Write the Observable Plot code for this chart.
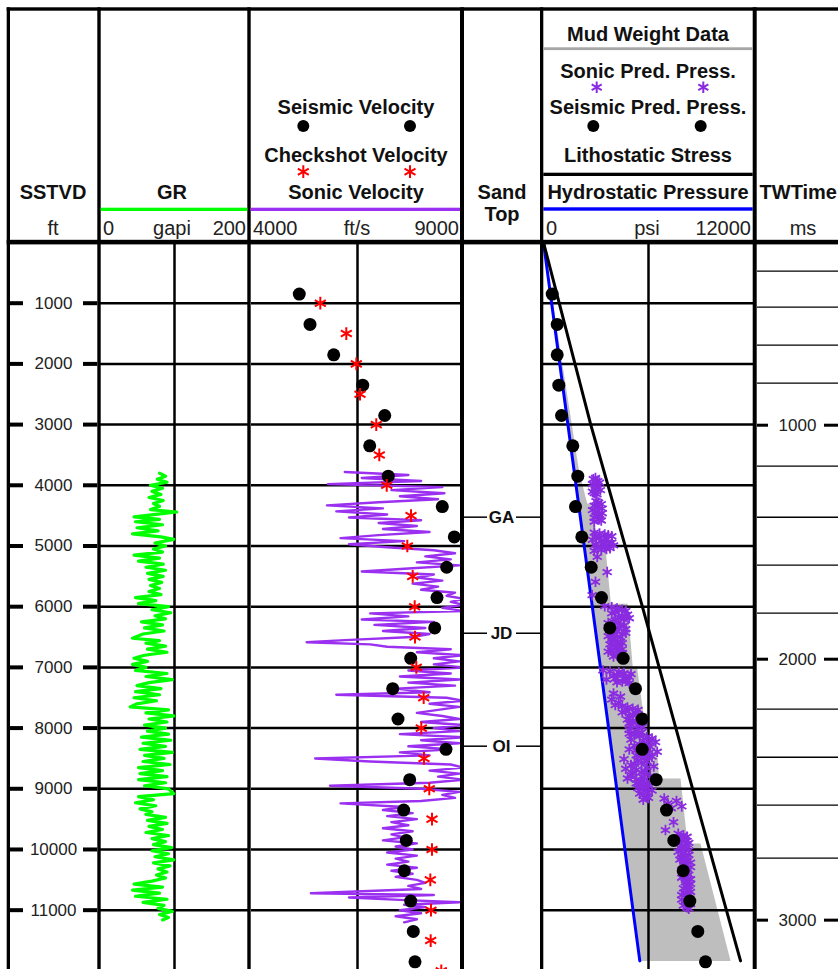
<!DOCTYPE html>
<html><head><meta charset="utf-8">
<script src="https://cdn.jsdelivr.net/npm/d3@7"></script>
<script src="https://cdn.jsdelivr.net/npm/@observablehq/plot@0.6"></script>
<style>
html,body{margin:0;padding:0;background:#fff;overflow:hidden;}
#wrap{position:relative;width:838px;height:969px;overflow:hidden;font-family:"Liberation Sans",Arial,sans-serif;}
.trk{position:absolute;top:242.3px;}
</style></head><body><div id="wrap"></div>
<script>
// ---------------- DATA ----------------
const depthTicks = [1000,2000,3000,4000,5000,6000,7000,8000,9000,10000,11000];

const grDepth = [3800,3850,3900,3950,4000,4050,4100,4150,4200,4250,4300,4350,4400,4440,4480,4520,4560,4600,4650,4700,4750,4800,4850,4890,4950,5000,5050,5100,5150,5200,5250,5300,5350,5400,5450,5500,5550,5600,5650,5700,5750,5800,5850,5900,5950,6000,6050,6100,6150,6200,6250,6300,6350,6400,6450,6520,6560,6600,6650,6700,6750,6800,6850,6900,6950,7000,7050,7100,7150,7200,7250,7300,7350,7400,7450,7500,7550,7600,7650,7700,7750,7800,7850,7900,7950,8000,8050,8100,8150,8200,8250,8300,8350,8400,8450,8500,8550,8600,8650,8700,8750,8800,8850,8900,8950,9000,9080,9130,9180,9230,9280,9330,9380,9420,9470,9520,9570,9620,9670,9720,9770,9820,9870,9920,9970,10020,10070,10120,10170,10220,10270,10320,10370,10420,10470,10520,10570,10620,10670,10720,10770,10820,10870,10920,10970,11020,11070,11120,11160];
const grVal = [80,88,77,90,68,84,70,82,66,85,72,80,68,103,75,46,80,48,84,50,78,44,82,99,74,88,72,84,46,80,52,85,62,88,64,85,66,83,68,80,66,82,48,75,52,92,70,95,74,88,56,84,60,86,58,44,80,62,88,64,90,60,46,64,44,62,48,90,62,97,66,50,82,48,80,46,76,50,41,92,62,99,66,90,60,88,64,92,56,95,58,88,54,97,60,86,58,94,52,84,54,90,52,88,60,92,99,52,72,48,75,54,70,62,88,64,90,66,84,62,92,70,88,72,96,70,92,74,99,72,94,78,90,76,88,70,46,84,44,80,48,90,58,86,78,97,80,92,84];

const sonicDepth = [3780,3830,3880,3930,3980,4030,4080,4130,4180,4230,4280,4330,4380,4430,4480,4530,4575,4620,4670,4720,4770,4820,4870,4920,4970,5020,5070,5120,5170,5220,5270,5320,5370,5420,5470,5520,5570,5620,5670,5720,5770,5820,5870,5920,5970,6020,6070,6110,6160,6210,6250,6300,6350,6400,6450,6500,6550,6585,6620,6660,6700,6750,6800,6850,6900,6950,7000,7050,7100,7150,7200,7250,7300,7350,7410,7450,7500,7550,7600,7650,7700,7750,7800,7850,7900,7950,8000,8050,8100,8150,8200,8250,8300,8350,8400,8450,8500,8550,8600,8650,8700,8750,8800,8850,8900,8950,9000,9050,9100,9150,9200,9240,9300,9350,9400,9450,9500,9550,9600,9650,9700,9750,9800,9850,9900,9950,10000,10050,10100,10150,10200,10250,10300,10350,10400,10450,10500,10550,10600,10650,10720,10750,10790,10830,10870,10910,10950,11000,11050,11100,11150,11200];
const sonicVel = [6200,7700,6600,8000,5800,8500,7300,8550,7500,8400,7000,5780,7100,6000,7200,6300,8000,7000,7900,7100,8200,7000,6100,7600,6300,7200,8300,8800,8100,8700,7900,8900,7700,6600,8300,7900,8500,7800,8400,8000,8800,8600,9000,8700,9000,8500,9000,6800,7700,6600,8300,6900,8100,7100,8200,7800,6200,5300,6800,7200,8700,7900,9000,8300,8900,8300,9000,7700,8700,7500,8900,7700,8800,7400,8200,6000,8600,9000,8200,8900,8400,7900,8500,8900,8000,9000,8300,8900,7500,9000,8000,8900,7700,8700,7500,8200,5500,6800,8700,9000,8200,8900,8400,9000,8200,5850,8000,8900,8500,8800,8000,6100,7600,7100,7800,7200,7900,7300,7700,7100,7800,7300,7600,7100,7900,7400,7800,7200,7900,7400,7700,7200,7900,7300,7800,7400,7900,8100,7700,8000,5400,8300,6300,7500,8900,7600,8100,7500,8000,7400,7900,7600];

const seisDepth = [850,1350,1850,2350,2850,3350,3850,4350,4850,5350,5850,6350,6850,7350,7850,8350,8850,9350,9850,10350,10850,11350,11850];
const seisVel = [5127,5380,5939,6623,7142,6788,7226,8500,8783,8604,8375,8321,7755,7330,7455,8587,7731,7590,7651,7604,7755,7816,7856];
const seisPress = [497,783,783,874,1029,1674,1960,1829,2189,2726,3314,3789,4554,5257,5640,5640,6440,7029,7446,7983,8360,8817,9257];

const checkDepth = [1000,1500,2000,2500,3000,3500,4000,4500,5000,5500,6000,6500,7000,7500,8000,8500,9000,9500,10000,10500,11000,11500,12000];
const checkVel = [5623,6236,6472,6559,6943,7014,7189,7762,7675,7802,7849,7856,7887,8061,8005,8068,8193,8257,8257,8217,8233,8226,8476];

const sppDepth = [3880,3930,3980,4030,4080,4130,4260,4310,4360,4410,4460,4510,4560,4600,4780,4810,4840,4870,4900,4930,4960,4990,5020,5050,5080,5180,5430,5590,5810,5990,6030,6070,6110,6150,6190,6230,6270,6310,6350,6390,6430,6470,6500,6540,6580,6620,6660,6700,6740,6780,6820,7050,7080,7110,7140,7170,7200,7230,7260,7430,7480,7530,7580,7620,7660,7700,7740,7780,7820,7860,7900,7940,7980,8030,8070,8110,8150,8190,8230,8270,8310,8350,8390,8430,8470,8510,8550,8590,8630,8670,8710,8750,8790,8830,8870,8910,8950,8990,9030,9080,9130,9180,9160,9200,9240,9290,9320,9550,9680,9740,9790,9840,9890,9940,9990,10040,10090,10140,10190,10240,10290,10340,10390,10440,10490,10540,10590,10640,10700,10750,10800,10850,10900,10950,
  3900,3955,4005,4055,4105,4150,4285,4335,4385,4435,4485,4535,4580,4795,4825,4855,4885,4915,4945,4975,5005,5035,5065,6010,6050,6090,6130,6170,6210,6250,6290,6330,6370,6410,6450,6485,6560,6600,6640,6680,6720,6760,6800,7065,7095,7125,7155,7185,7215,7245,7640,7680,7720,7760,7800,7840,7880,7920,7960,8050,8090,8130,8170,8210,8250,8290,8330,8370,8410,8450,8490,8530,8570,8610,8650,8690,8730,8770,8810,8850,8890,8930,8970,9010,9055,9105,9150,9765,9815,9865,9915,9965,10015,10065,10115,10165,10215,10265,10315,10365,10415,10465,10515,10565,10615,10670,10725,10775,10825,10875,10925,10975];
const sppPsi = [2970,3100,2800,3000,3250,2900,3000,3300,3100,2800,3350,3050,3200,2900,2900,3500,3900,3200,2800,3700,3400,4000,3100,3600,2900,3070,3640,2970,2780,3500,4200,4700,3900,4500,4900,4100,3700,4600,4300,3800,4700,4000,4400,3900,4400,3800,4200,4500,3700,4300,4000,3400,4300,5000,4000,4700,3600,4500,4900,4000,4400,3900,4300,4100,4800,5400,4500,5100,5600,4800,5300,5000,5650,4900,5600,5200,5900,5000,6400,5500,6100,4900,6500,5700,6200,4600,5900,5200,6300,4700,5800,5100,6100,4800,5600,5300,6000,5400,6200,5500,5900,5700,6900,7600,7100,7900,7300,7430,6970,7700,8200,7800,8300,7900,8100,7700,8300,7900,8200,8000,8400,7900,8200,8000,8400,8100,8300,8000,8400,7900,8300,8100,8400,8200,
  2850,3200,2950,3100,2800,3050,3150,2900,3350,3000,3200,2900,3300,3200,3700,3000,3600,3300,3900,3000,3500,3800,3300,3900,4500,4100,4800,4300,4600,4000,4400,3900,4700,4200,4500,3700,4100,4500,4000,4300,3900,4500,4200,3800,4600,4200,4900,4100,4800,4200,4500,5100,4700,5300,4900,5400,5100,4900,5400,5300,4900,5500,6200,5700,5900,5200,5800,5300,6000,5300,5800,5400,5600,5000,5900,5300,5600,5000,5700,5300,5900,5600,5800,5700,5900,5700,6000,8000,7900,8100,8200,7800,8300,8000,8100,7800,8400,8100,8200,8100,8300,7900,8200,8400,8200,8300,8100,8200,7900,8300,8000,8300];

const hydroDepth = [0, 11835];
const hydroPsi = [0, 5503];
const lithoDepth = [0, 3000, 6000, 9000, 11835];
const lithoPsi = [0, 2700, 5650, 8520, 11260];
const mudDepth = [0,3800,4300,4300,4900,4900,5950,5950,7000,7000,7750,7750,8150,8150,8830,8830,9900,9900,11835];
const mudPsi = [0,2050,2500,2700,3100,3500,3850,4800,5100,5350,5700,5900,6050,6450,6600,7830,8230,8970,10690];

const twtTime = [200,400,600,800,1000,1200,1400,1600,1800,2000,2200,2400,2600,2800,3000];
const twtDepth = [473,1066,1692,2318,3010,3685,4526,5316,6107,6865,7689,8480,9270,10143,11164];

const topNames = ["GA","JD","OI"];
const topDepth = [4525,6437,8298];

// ---------------- BUILD ----------------
const zip = (a, b, ka, kb) => a.map((v, i) => ({[ka]: v, [kb]: b[i]}));
const gr = zip(grDepth, grVal, "depth", "v");
const sonic = zip(sonicDepth, sonicVel, "depth", "v");
const seisV = zip(seisDepth, seisVel, "depth", "v");
const seisP = zip(seisDepth, seisPress, "depth", "p");
const chk = zip(checkDepth, checkVel, "depth", "v");
const spp = zip(sppDepth, sppPsi, "depth", "p");
const hydro = zip(hydroDepth, hydroPsi, "depth", "p");
const litho = zip(lithoDepth, lithoPsi, "depth", "p");
const mudPoly = zip(mudDepth, mudPsi, "depth", "p").concat(hydro.slice().reverse());
const twt = zip(twtTime, twtDepth, "t", "depth");
const tops = zip(topNames, topDepth, "name", "depth");

const PURPLE = "#9b30f0";
const wrap = document.getElementById("wrap");
const Y = {domain: [0, 12000], range: [0, 728.4], axis: null};
function track(left, width, x, marks) {
  const p = Plot.plot({
    width, height: 729, margin: 0,
    x: Object.assign({axis: null}, x), y: Y,
    style: {background: "transparent", overflow: "visible", fontFamily: "Liberation Sans, Arial, sans-serif"},
    marks
  });
  p.classList.add("trk");
  p.style.left = left + "px";
  wrap.appendChild(p);
}
const grid = (sw) => Plot.ruleY(depthTicks, {stroke: "#000", strokeWidth: sw});

// SSTVD
track(10, 87.3, {type: "identity"}, [
  Plot.ruleY(depthTicks, {x1: 0, x2: 13, stroke: "#000", strokeWidth: 4}),
  Plot.ruleY(depthTicks, {x1: 73, x2: 87.3, stroke: "#000", strokeWidth: 4}),
  Plot.text(depthTicks, {x: 43, y: d => d, text: d => String(d), fontSize: 17, fill: "#222"})
]);
// GR
track(99, 150, {domain: [0, 200], range: [0, 150]}, [
  grid(2.5),
  Plot.ruleX([100], {stroke: "#000", strokeWidth: 2.5}),
  Plot.line(gr, {x: "v", y: "depth", stroke: "#00ff00", strokeWidth: 3.2, strokeLinejoin: "round"})
]);
// Velocity
track(250.5, 212, {domain: [4000, 9000], range: [0, 212]}, [
  grid(2.5),
  Plot.ruleX([6500], {stroke: "#000", strokeWidth: 2.5}),
  Plot.line(sonic, {x: "v", y: "depth", stroke: PURPLE, strokeWidth: 2.4, strokeLinejoin: "round", clip: true}),
  Plot.dot(seisV, {x: "v", y: "depth", r: 6.5, fill: "#000", stroke: "none"}),
  Plot.dot(chk, {x: "v", y: "depth", r: 6, symbol: "asterisk", stroke: "#ff0000", strokeWidth: 2})
]);
// Sand top
track(464, 76, {type: "identity"}, [
  Plot.ruleY(tops, {y: "depth", x1: 0, x2: 23, stroke: "#000", strokeWidth: 1.5}),
  Plot.ruleY(tops, {y: "depth", x1: 52, x2: 76, stroke: "#000", strokeWidth: 1.5}),
  Plot.text(tops, {x: 37, y: "depth", text: "name", fontSize: 17, fontWeight: "bold", fill: "#111"})
]);
// Pressure
track(543, 210, {domain: [0, 12000], range: [0, 210]}, [
  Plot.line(mudPoly, {x: "p", y: "depth", fill: "#bebebe", stroke: "none"}),
  grid(2.5),
  Plot.ruleX([6000], {stroke: "#000", strokeWidth: 2.5}),
  Plot.line(hydro, {x: "p", y: "depth", stroke: "#0000ff", strokeWidth: 3}),
  Plot.line(litho, {x: "p", y: "depth", stroke: "#000", strokeWidth: 3}),
  Plot.dot(spp, {x: "p", y: "depth", r: 5, symbol: "asterisk", stroke: "#8a2be2", strokeWidth: 1.8}),
  Plot.dot(seisP, {x: "p", y: "depth", r: 6.5, fill: "#000", stroke: "none"})
]);
// TWT
const major = twt.filter(d => d.t % 1000 === 0), minor = twt.filter(d => d.t % 1000 !== 0);
track(756.7, 82, {type: "identity"}, [
  Plot.ruleY(minor, {y: "depth", x1: 0, x2: 82, stroke: "#000", strokeWidth: 1.3}),
  Plot.ruleY(major, {y: "depth", x1: 0, x2: 11, stroke: "#000", strokeWidth: 3}),
  Plot.ruleY(major, {y: "depth", x1: 67, x2: 82, stroke: "#000", strokeWidth: 3}),
  Plot.text(major, {x: 40, y: "depth", text: d => String(d.t), fontSize: 17, fill: "#222"})
]);

// ---------------- HEADER & FRAME ----------------
const svg = d3.select(wrap).append("svg").attr("width", 838).attr("height", 969)
  .style("position", "absolute").style("left", "0px").style("top", "0px");
const rect = (x, y, w, h, fill) => svg.append("rect").attr("x", x).attr("y", y).attr("width", w).attr("height", h).attr("fill", fill);
const txt = (x, y, s, size = 20, weight = "bold", anchor = "middle", fill = "#111") =>
  svg.append("text").attr("x", x).attr("y", y + 0.36 * size).attr("text-anchor", anchor)
    .attr("font-family", "Liberation Sans, Arial, sans-serif").attr("font-size", size)
    .attr("font-weight", weight).attr("fill", fill).text(s);
const sym = (x, y, type, r, fill, stroke, sw) => svg.append("path")
  .attr("transform", `translate(${x},${y})`).attr("d", d3.symbol(type, r * r * Math.PI)())
  .attr("fill", fill).attr("stroke", stroke).attr("stroke-width", sw);

// frame
rect(6.7, 7.3, 832, 3.4, "#000");
rect(6.7, 239.8, 832, 4.6, "#000");
[[6.7, 3.3], [97.3, 3.4], [247.3, 3.4], [460, 4], [540, 3.3], [752.7, 4]].forEach(([x, w]) => rect(x, 7.3, w, 962, "#000"));
// pressure header dividers
rect(543.3, 47.3, 209.4, 2.8, "#a6a6a6");
rect(543.3, 172.7, 209.4, 3.3, "#000");
// curve colour bars
rect(100.7, 207.7, 146.6, 3.3, "#00ff00");
rect(250.7, 207.7, 209.3, 3.3, PURPLE);
rect(543.3, 207.3, 209.4, 3.4, "#0000ff");

// SSTVD
txt(53, 191.7, "SSTVD");
txt(53, 227.7, "ft", 20, "normal", "middle", "#222");
// GR
txt(172, 191.7, "GR");
txt(103, 227.7, "0", 20, "normal", "start", "#222");
txt(172, 227.7, "gapi", 20, "normal", "middle", "#222");
txt(246, 227.7, "200", 20, "normal", "end", "#222");
// Velocity
txt(356, 106.7, "Seismic Velocity");
sym(303.3, 126, d3.symbolCircle, 6, "#000", "none", 0);
sym(410, 126, d3.symbolCircle, 6, "#000", "none", 0);
txt(356, 155, "Checkshot Velocity");
sym(303.3, 171.7, d3.symbolAsterisk, 6, "none", "#ff0000", 2);
sym(410, 171.7, d3.symbolAsterisk, 6, "none", "#ff0000", 2);
txt(356, 191.7, "Sonic Velocity");
txt(253, 227.7, "4000", 20, "normal", "start", "#222");
txt(357, 227.7, "ft/s", 20, "normal", "middle", "#222");
txt(459, 227.7, "9000", 20, "normal", "end", "#222");
// Sand top
txt(502, 191.7, "Sand");
txt(502, 213.3, "Top");
// Pressure
txt(648, 33.3, "Mud Weight Data");
txt(648, 70.7, "Sonic Pred. Press.");
sym(596.7, 87.3, d3.symbolAsterisk, 5.5, "none", "#8a2be2", 2);
sym(703.3, 87.3, d3.symbolAsterisk, 5.5, "none", "#8a2be2", 2);
txt(648, 106.7, "Seismic Pred. Press.");
sym(593.3, 126, d3.symbolCircle, 6, "#000", "none", 0);
sym(700.7, 126, d3.symbolCircle, 6, "#000", "none", 0);
txt(648, 155, "Lithostatic Stress");
txt(648, 191.7, "Hydrostatic Pressure");
txt(546, 227.7, "0", 20, "normal", "start", "#222");
txt(647, 227.7, "psi", 20, "normal", "middle", "#222");
txt(751, 227.7, "12000", 20, "normal", "end", "#222");
// TWT
txt(837, 191.7, "TWTime", 20, "bold", "end");
txt(803, 227.7, "ms", 20, "normal", "middle", "#222");
</script></body></html>
